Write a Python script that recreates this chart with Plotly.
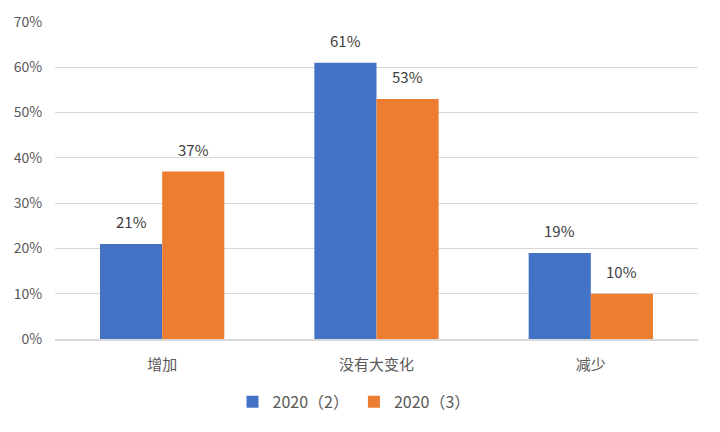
import plotly.graph_objects as go

categories = ["增加", "没有大变化", "减少"]
series_names = ["2020（2）", "2020（3）"]
values_2 = [21, 61, 19]
values_3 = [37, 53, 10]
colors = ["#4472C4", "#ED7D31"]

FONT = "Noto Sans CJK SC"

fig = go.Figure()
all_vals = [values_2, values_3]
for name, vals, col in zip(series_names, all_vals, colors):
    fig.add_trace(go.Bar(
        x=categories, y=vals, name=name, marker_color=col,
        marker_line_width=0,
    ))

# data labels above each bar
for i, vals in enumerate(all_vals):
    shift = -31 if i == 0 else 31
    for cat, v in zip(categories, vals):
        fig.add_annotation(
            x=cat, y=v, text=f"{v}%", showarrow=False,
            xshift=shift, yshift=22, yanchor="middle",
            font=dict(family=FONT, size=15, color="#404040"),
        )

fig.update_layout(
    width=720, height=432,
    margin=dict(l=55, r=22, t=22, b=93),
    paper_bgcolor="white", plot_bgcolor="white",
    barmode="group", bargap=0.42, bargroupgap=0,
    font=dict(family=FONT, color="#595959", size=13),
    showlegend=True,
    legend=dict(orientation="h", x=0.465, xanchor="center", y=-0.145, yanchor="top",
                font=dict(family=FONT, size=16, color="#595959"),
                itemwidth=30, traceorder="normal"),
    xaxis=dict(showline=True, linecolor="#D9D9D9", linewidth=1.5,
               ticks="outside", ticklen=11, tickcolor="rgba(0,0,0,0)",
               automargin=False,
               tickfont=dict(family=FONT, size=15, color="#595959")),
    yaxis=dict(range=[0, 70], dtick=10, ticksuffix="%", showgrid=True,
               gridcolor="#D9D9D9", gridwidth=1, zeroline=False,
               ticks="outside", ticklen=9, tickcolor="rgba(0,0,0,0)",
               automargin=False,
               tickfont=dict(family=FONT, size=14, color="#595959")),
)

fig.write_html("out.html", config={"displayModeBar": False},
               post_script="document.body.style.margin='0px';")
